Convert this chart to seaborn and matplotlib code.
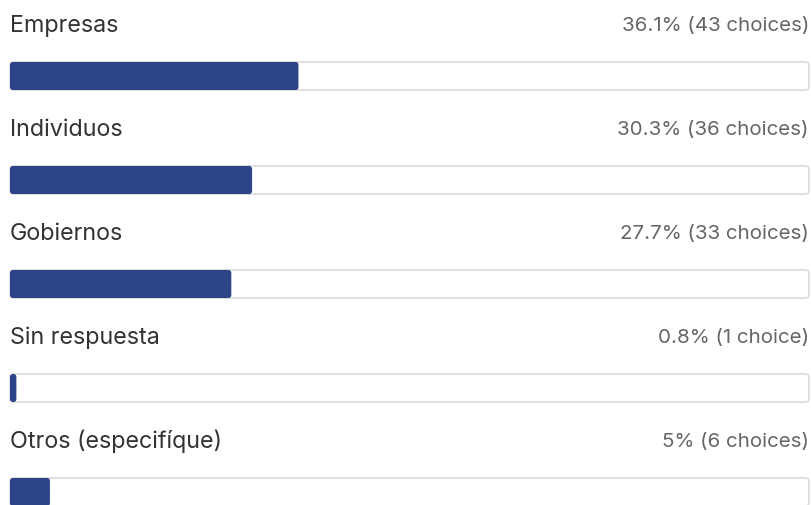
import pandas as pd
import matplotlib.pyplot as plt
from matplotlib.patches import FancyBboxPatch
import seaborn as sns

categories = ["Empresas", "Individuos", "Gobiernos", "Sin respuesta", "Otros (especifíque)"]
percents = [36.1, 30.3, 27.7, 0.8, 5]
choices = [43, 36, 33, 1, 6]

df = pd.DataFrame({"category": categories, "percent": percents, "choices": choices})

sns.set_theme(style="white")
plt.rcParams['font.family'] = ['Inter', 'DejaVu Sans']

fig = plt.figure(figsize=(8.12, 5.06), dpi=100)
ax = fig.add_axes([0, 0, 1, 1])

bar_h = 0.27
sns.barplot(data=df, x="percent", y="category", orient="h", color="#2d4488",
            width=bar_h, ax=ax, zorder=3)

# 1% of x is ~8px, 1 row is 104px
aspect = 7.99 / 104

# replace square bars with slightly rounded ones
for p in list(ax.patches):
    x0, y0 = p.get_x(), p.get_y()
    w, h = max(p.get_width(), 0.8), p.get_height()
    p.remove()
    ax.add_patch(FancyBboxPatch((x0, y0), w, h,
                                boxstyle="round,pad=0,rounding_size=0.4",
                                mutation_aspect=aspect, facecolor="#2d4488",
                                edgecolor="none", zorder=3))

# background track for each row
for i, row in df.iterrows():
    ax.add_patch(FancyBboxPatch((0, i - bar_h / 2), 100, bar_h,
                                boxstyle="round,pad=0,rounding_size=0.45",
                                mutation_aspect=aspect, facecolor="white",
                                edgecolor="#dedede", linewidth=1.3, zorder=2))
    ax.text(0, i - 0.433, row["category"], ha="left", va="baseline",
            fontsize=16.8, color="#333333")
    ax.text(100, i - 0.443, f"{row['percent']:g}% ({row['choices']} "
            f"{'choice' if row['choices'] == 1 else 'choices'})",
            ha="right", va="baseline", fontsize=14.8, color="#666666")

ax.set_xlim(-10 / 7.99, 802 / 7.99)
ax.set_ylim((506 - 77) / 104, -77 / 104)
ax.axis("off")

fig.savefig("out.png", dpi=100, facecolor="white")
